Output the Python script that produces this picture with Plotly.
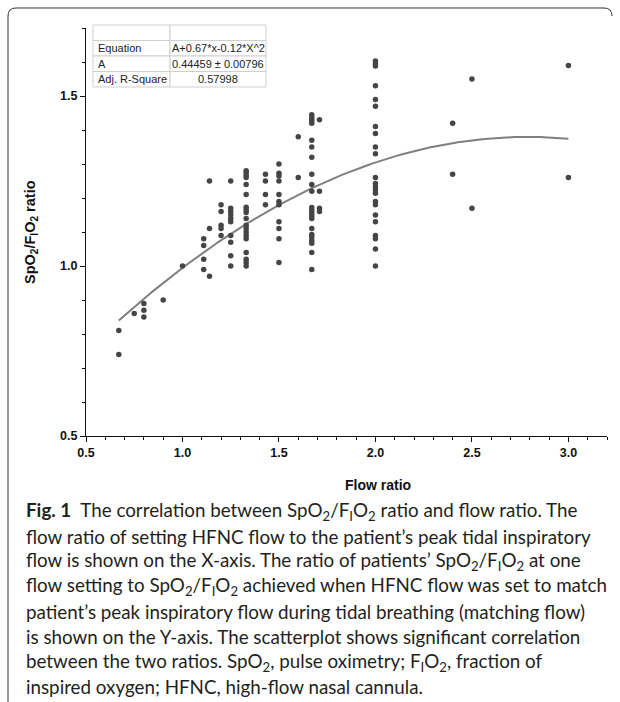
import numpy as np
import plotly.graph_objects as go

# ---------------- data ----------------
flow_ratio = (
    [0.67] * 2 + [0.75] + [0.8] * 3 + [0.9] + [1.0] + [1.11] * 4 + [1.14] * 3 +
    [1.2] * 5 + [1.25] * 10 + [1.33] * 19 + [1.43] * 4 + [1.5] * 11 + [1.6] * 2 +
    [1.67] * 22 + [1.71] * 4 + [2.0] * 23 + [2.4] * 2 + [2.5] * 2 + [3.0] * 2
)
spo2_fio2_ratio = [
    0.81, 0.74,
    0.86,
    0.89, 0.87, 0.85,
    0.90,
    1.00,
    1.08, 1.06, 1.02, 0.99,
    1.25, 1.11, 0.97,
    1.18, 1.16, 1.12, 1.11, 1.09,
    1.25, 1.17, 1.16, 1.15, 1.14, 1.13, 1.09, 1.07, 1.03, 1.00,
    1.28, 1.275, 1.267, 1.26, 1.24, 1.21, 1.173, 1.165, 1.157, 1.14, 1.12, 1.11, 1.10, 1.09, 1.08, 1.04, 1.02, 1.01, 1.00,
    1.27, 1.25, 1.21, 1.18,
    1.30, 1.273, 1.265, 1.25, 1.21, 1.19, 1.18, 1.13, 1.11, 1.08, 1.01,
    1.38, 1.26,
    1.445, 1.436, 1.429, 1.42, 1.37, 1.35, 1.32, 1.27, 1.24, 1.22, 1.172, 1.164, 1.156, 1.148, 1.14, 1.11, 1.093, 1.085, 1.076, 1.067, 1.04, 0.99,
    1.43, 1.22, 1.17, 1.16,
    1.603, 1.595, 1.588, 1.53, 1.49, 1.47, 1.41, 1.39, 1.35, 1.33, 1.26, 1.243, 1.233, 1.224, 1.214, 1.19, 1.18, 1.15, 1.13, 1.09, 1.08, 1.05, 1.00,
    1.42, 1.27,
    1.55, 1.17,
    1.59, 1.26,
]

# fitted model shown in the table: y = A + 0.67*x - 0.12*x^2
fit_A = 0.44459
fit_b1 = 0.67
fit_b2 = -0.12
fit_x_min, fit_x_max = 0.67, 3.0

table_rows = [
    ["", ""],
    ["Equation", "A+0.67*x-0.12*X^2"],
    ["A", "0.44459 \u00b1 0.00796"],
    ["Adj. R-Square", "0.57998"],
]

x_ticks = [0.5, 1.0, 1.5, 2.0, 2.5, 3.0]
y_ticks = [0.5, 1.0, 1.5]

x_title = "<b>Flow ratio</b>"
y_title = "<b>SpO<sub>2</sub>/F<sub>I</sub>O<sub>2</sub> ratio</b>"

caption_lines = [
    "<b>Fig. 1</b>  The correlation between SpO<sub>2</sub>/F<sub>I</sub>O<sub>2</sub> ratio and flow ratio. The",
    "flow ratio of setting HFNC flow to the patient\u2019s peak tidal inspiratory",
    "flow is shown on the X-axis. The ratio of patients\u2019 SpO<sub>2</sub>/F<sub>I</sub>O<sub>2</sub> at one",
    "flow setting to SpO<sub>2</sub>/F<sub>I</sub>O<sub>2</sub> achieved when HFNC flow was set to match",
    "patient\u2019s peak inspiratory flow during tidal breathing (matching flow)",
    "is shown on the Y-axis. The scatterplot shows significant correlation",
    "between the two ratios. SpO<sub>2</sub>, pulse oximetry; F<sub>I</sub>O<sub>2</sub>, fraction of",
    "inspired oxygen; HFNC, high-flow nasal cannula.",
]

# ---------------- layout geometry ----------------
W, H = 620, 702
ML, MR, MT, MB = 86, 13, 28, 266
PW, PH = W - ML - MR, H - MT - MB


def px(xp):
    return (xp - ML) / PW


def py(yp):
    return (H - MB - yp) / PH


fig = go.Figure()

xf = np.linspace(fit_x_min, fit_x_max, 200)
yf = fit_A + fit_b1 * xf + fit_b2 * xf ** 2
fig.add_trace(go.Scatter(x=xf, y=yf, mode="lines",
                         line=dict(color="#7f7f7f", width=2), hoverinfo="skip"))
fig.add_trace(go.Scatter(x=flow_ratio, y=spo2_fio2_ratio, mode="markers",
                         marker=dict(color="#454545", size=5.5)))

axis_font = dict(family="Liberation Sans, Arial", size=12.5, color="#111", weight="bold")
fig.update_xaxes(range=[0.5, 3.2], tickvals=x_ticks, ticktext=[f"{v:.1f}" for v in x_ticks],
                 showline=True, linecolor="#111", linewidth=1.3, ticks="outside",
                 ticklen=5, tickwidth=1.3, tickcolor="#111", showgrid=False, zeroline=False,
                 tickfont=axis_font,
                 minor=dict(dtick=0.1, tick0=0.5, ticks="outside", ticklen=3, tickcolor="#111", tickwidth=1))
fig.update_yaxes(range=[0.5, 1.7], tickvals=y_ticks, ticktext=[f"{v:.1f}" for v in y_ticks],
                 showline=True, linecolor="#111", linewidth=1.3, ticks="outside",
                 ticklen=5, tickwidth=1.3, tickcolor="#111", showgrid=False, zeroline=False,
                 tickfont=axis_font,
                 minor=dict(dtick=0.1, tick0=0.5, ticks="outside", ticklen=3, tickcolor="#111", tickwidth=1))

shapes = []
annotations = []

# axis titles
annotations.append(dict(x=px(378), y=py(485), xref="paper", yref="paper", text=x_title,
                        showarrow=False, xanchor="center", yanchor="middle",
                        font=dict(family="Liberation Sans, Arial", size=14, color="#111")))
annotations.append(dict(x=px(31), y=py(232), xref="paper", yref="paper", text=y_title,
                        showarrow=False, xanchor="center", yanchor="middle", textangle=-90,
                        font=dict(family="Liberation Sans, Arial", size=14.5, color="#111")))

# table
tx0, tx1, tdiv = 93, 266, 170
ty0, row_h = 25, 15.5
for i, row in enumerate(table_rows):
    y0 = ty0 + i * row_h
    y1 = y0 + row_h
    for (a, b) in [(tx0, tdiv), (tdiv, tx1)]:
        shapes.append(dict(type="rect", xref="paper", yref="paper",
                           x0=px(a), x1=px(b), y0=py(y1), y1=py(y0),
                           line=dict(color="#cfcfcf", width=1), fillcolor="white", layer="above"))
    annotations.append(dict(x=px(tx0 + 3), y=py((y0 + y1) / 2), xref="paper", yref="paper",
                            text=row[0], showarrow=False, xanchor="left", yanchor="middle",
                            font=dict(family="Liberation Sans, Arial", size=11, color="#222")))
    annotations.append(dict(x=px((tdiv + tx1) / 2), y=py((y0 + y1) / 2), xref="paper", yref="paper",
                            text=row[1], showarrow=False, xanchor="center", yanchor="middle",
                            font=dict(family="Liberation Sans, Arial", size=11, color="#222")))

# caption
cap_y0, cap_dy = 511, 25.1
for i, line in enumerate(caption_lines):
    annotations.append(dict(x=px(24), y=py(cap_y0 + i * cap_dy), xref="paper", yref="paper",
                            text=line, showarrow=False, xanchor="left", yanchor="middle",
                            font=dict(family="Lato, Noto Sans", size=18.8, color="#231f20")))

# figure frame (rounded, open at the bottom/right)
r = 8
fx0, fy0, fx1, fy1 = 8, 8, 612, 702


def P(a, b):
    return f"{px(a):.5f},{py(b):.5f}"


path = (f"M {P(fx0, fy1)} L {P(fx0, fy0 + r)} Q {P(fx0, fy0)} {P(fx0 + r, fy0)} "
        f"L {P(fx1 - r, fy0)} Q {P(fx1, fy0)} {P(fx1, fy0 + r)}")
shapes.append(dict(type="path", xref="paper", yref="paper", path=path,
                   line=dict(color="#333", width=1)))

fig.update_layout(width=W, height=H, margin=dict(l=ML, r=MR, t=MT, b=MB),
                  paper_bgcolor="white", plot_bgcolor="white", showlegend=False,
                  shapes=shapes, annotations=annotations)

fig.write_html("out.html")
